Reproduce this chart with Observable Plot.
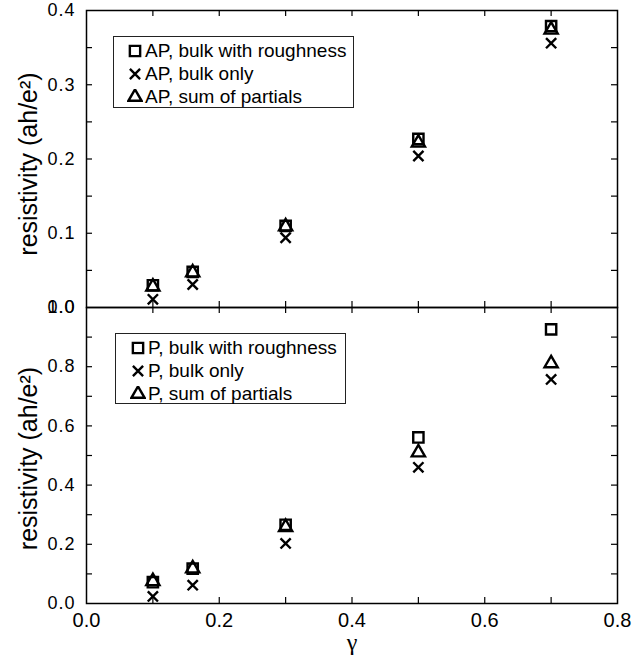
<!DOCTYPE html>
<html><head><meta charset="utf-8">
<script src="https://cdn.jsdelivr.net/npm/d3@7"></script>
<script src="https://cdn.jsdelivr.net/npm/@observablehq/plot@0.6"></script>
<style>
body{margin:0;background:#fff;}
#wrap{position:relative;width:634px;height:660px;font-family:"Liberation Sans",Arial,sans-serif;color:#000;}
#wrap svg.layer{position:absolute;left:0;}
#wrap svg.layer g[aria-label^="y-axis"]{font-size:18px;letter-spacing:1px;}
#wrap svg.layer g[aria-label^="x-axis"]{font-size:20px;}
.legend{position:absolute;border:1.2px solid #222;background:#fff;font-size:19px;line-height:23px;box-sizing:border-box;padding-top:2px;}
.legend .row{display:flex;align-items:center;height:23px;white-space:nowrap;}
.legend .row svg{display:block;margin-right:2px;}
</style></head><body><div id="wrap"></div>
<script>
// ---- data ----
const gamma = [0.1, 0.16, 0.3, 0.5, 0.7];
const apRough = [0.030, 0.048, 0.110, 0.227, 0.379];
const apBulk  = [0.011, 0.031, 0.094, 0.204, 0.356];
const apSum   = [0.028, 0.047, 0.109, 0.222, 0.374];
const pRough  = [0.072, 0.118, 0.266, 0.561, 0.926];
const pBulk   = [0.024, 0.062, 0.203, 0.460, 0.757];
const pSum    = [0.075, 0.118, 0.258, 0.510, 0.811];

const xLabelTicks = [0, 0.2, 0.4, 0.6, 0.8];
const xAllTicks = [0.1, 0.2, 0.3, 0.4, 0.5, 0.6, 0.7];
const topLabelTicks = [0, 0.1, 0.2, 0.3, 0.4];
const topAllTicks = [0.05, 0.1, 0.15, 0.2, 0.25, 0.3, 0.35];
const botLabelTicks = [0, 0.2, 0.4, 0.6, 0.8, 1.0];
const botAllTicks = [0.1, 0.2, 0.3, 0.4, 0.5, 0.6, 0.7, 0.8, 0.9];

const topLegend = ["AP, bulk with roughness", "AP, bulk only", "AP, sum of partials"];
const botLegend = ["P, bulk with roughness", "P, bulk only", "P, sum of partials"];
const yTitle = "resistivity (ah/e\u00B2)";
const xTitle = "\u03B3";

const symbols = ["square", "times", "triangle"];
const symR = {square: 5.8, times: 4.7, triangle: 4.9};

const W = 634, ML = 86, MR = 17, TICK = 6;
const fmt = d3.format(".1f");

function panel({height, marginTop, marginBottom, yDomain, yLabels, yAll, series, showX, titleDy}) {
  const frameH = height - marginTop - marginBottom;
  const frameW = W - ML - MR;
  const rows = series.map(vals => gamma.map((g, i) => ({x: g, y: vals[i]})));
  const marks = [
    Plot.ruleX(xAllTicks, {x: d => d, insetTop: frameH - TICK, stroke: "#000", strokeWidth: 1.2}),
    Plot.ruleX(xAllTicks, {x: d => d, insetBottom: frameH - TICK, stroke: "#000", strokeWidth: 1.2}),
    Plot.ruleY(yAll, {y: d => d, insetRight: frameW - TICK, stroke: "#000", strokeWidth: 1.2}),
    Plot.ruleY(yAll, {y: d => d, insetLeft: frameW - TICK, stroke: "#000", strokeWidth: 1.2}),
    Plot.frame({stroke: "#000", strokeWidth: 1.5}),
    Plot.text([yTitle], {frameAnchor: "left", textAnchor: "middle", lineAnchor: "middle", rotate: -90, dx: -58, dy: titleDy, fontSize: 25, fill: "#000"})
  ];
  [0, 2, 1].forEach(k => {
    marks.push(Plot.dot(rows[k], {x: "x", y: "y", symbol: symbols[k], r: symR[symbols[k]],
      stroke: "#000", strokeWidth: 2.4, fill: "none"}));
  });
  if (showX) marks.push(Plot.text([xTitle], {frameAnchor: "bottom", dy: 46, fontSize: 24,
    fontFamily: "Liberation Serif, Times New Roman, serif", fill: "#000"}));
  const svg = Plot.plot({
    width: W, height, marginLeft: ML, marginRight: MR, marginTop, marginBottom,
    style: {background: "transparent", fontSize: "18px", fontFamily: "Liberation Sans, Arial, sans-serif", color: "#000", overflow: "visible"},
    x: {domain: [0, 0.8], ticks: showX ? xLabelTicks : [], tickSize: 0, tickPadding: 9, tickFormat: fmt, label: null, axis: showX ? "bottom" : null},
    y: {domain: yDomain, ticks: yLabels, tickSize: 0, tickPadding: 11, tickFormat: fmt, label: null},
    marks
  });
  svg.classList.add("layer");
  return svg;
}

function legend(labels, {left, top, width, height, padLeft}) {
  const div = document.createElement("div");
  div.className = "legend";
  Object.assign(div.style, {left: left + "px", top: top + "px", width: width + "px", height: height + "px"});
  const symMap = {square: d3.symbolSquare, times: d3.symbolTimes, triangle: d3.symbolTriangle};
  labels.forEach((lab, k) => {
    const row = document.createElement("div");
    row.className = "row";
    row.style.paddingLeft = padLeft + "px";
    const s = d3.create("svg").attr("width", 16).attr("height", 16);
    const r = symR[symbols[k]];
    s.append("path").attr("transform", "translate(8,8)")
      .attr("d", d3.symbol(symMap[symbols[k]], r * r * Math.PI)())
      .attr("fill", "none").attr("stroke", "#000").attr("stroke-width", 2.4);
    row.appendChild(s.node());
    const t = document.createElement("span");
    t.textContent = lab;
    row.appendChild(t);
    div.appendChild(row);
  });
  return div;
}

const wrap = document.getElementById("wrap");
const top1 = panel({height: 320, marginTop: 10, marginBottom: 13, yDomain: [0, 0.4], yLabels: topLabelTicks, yAll: topAllTicks, series: [apRough, apBulk, apSum], showX: false, titleDy: 5});
top1.style.top = "0px";
const bot = panel({height: 360, marginTop: 7, marginBottom: 57, yDomain: [0, 1.0], yLabels: botLabelTicks, yAll: botAllTicks, series: [pRough, pBulk, pSum], showX: true, titleDy: 3});
bot.style.top = "300px";
wrap.appendChild(top1);
wrap.appendChild(bot);
wrap.appendChild(legend(topLegend, {left: 113, top: 36, width: 241, height: 72, padLeft: 13}));
wrap.appendChild(legend(botLegend, {left: 115, top: 333, width: 231, height: 71, padLeft: 14}));
</script></body></html>
